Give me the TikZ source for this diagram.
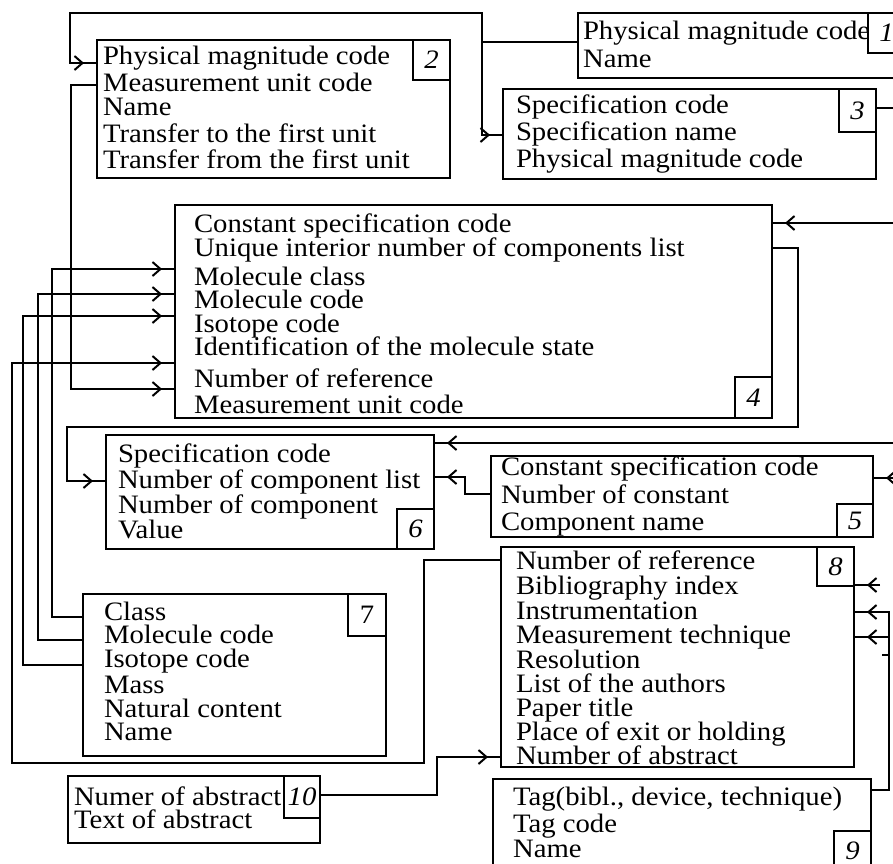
\documentclass[tikz,border=0pt]{standalone}
\usepackage{fontspec}
\setmainfont{Liberation Serif}[FakeStretch=1.08]
\usepackage{tikz}
\usetikzlibrary{fit,arrows.meta,decorations.markings}

\begin{document}
\begin{tikzpicture}[x=0.5pt, y=-0.5pt, line width=1pt,
    tbl/.style={draw, inner sep=0pt},
    num/.style={draw, inner sep=0pt},
    numtext/.style={inner sep=0pt, font=\fontsize{13.3}{13}\selectfont\itshape},
    row/.style={anchor=base west, inner sep=0pt, font=\fontsize{13.3}{13}\selectfont},
    link/.style={postaction={decorate}, decoration={markings,
        mark=at position -6pt with {\arrow{Straight Barb[length=4pt, width=7pt]}}}}]
    \useasboundingbox (0,0) rectangle (893,863);
    \clip (0,0) rectangle (893,863);
    % Table 1
    \node[tbl, fit={(578,13) (905,78)}] (t1) {};
    \node[num, fit={(868,13) (905,53)}, label={[numtext]center:1}] (n1) {};
    \foreach \i/\y/\txt in {1/39/Physical magnitude code, 2/67/Name}
        \node[row] (t1-\i) at (582,\y) {\txt};
    % Table 2
    \node[tbl, fit={(97,40) (450,178)}] (t2) {};
    \node[num, fit={(413,40) (450,80)}, label={[numtext]center:2}] (n2) {};
    \foreach \i/\y/\txt in {1/64/Physical magnitude code, 2/91/Measurement unit code,
            3/115/Name, 4/142/Transfer to the first unit, 5/168/Transfer from the first unit}
        \node[row] (t2-\i) at (102,\y) {\txt};
    % Table 3
    \node[tbl, fit={(503,89) (876,179)}] (t3) {};
    \node[num, fit={(839,89) (876,132)}, label={[numtext]center:3}] (n3) {};
    \foreach \i/\y/\txt in {1/113/Specification code, 2/140/Specification name,
            3/167/Physical magnitude code}
        \node[row] (t3-\i) at (515,\y) {\txt};
    % Table 4
    \node[tbl, fit={(175,205) (772,418)}] (t4) {};
    \node[num, fit={(735,377) (772,418)}, label={[numtext]center:4}] (n4) {};
    \foreach \i/\y/\txt in {1/232/Constant specification code,
            2/256/Unique interior number of components list, 3/285/Molecule class,
            4/308/Molecule code, 5/332/Isotope code,
            6/355/Identification of the molecule state, 7/387/Number of reference,
            8/413/Measurement unit code}
        \node[row] (t4-\i) at (193,\y) {\txt};
    % Table 5
    \node[tbl, fit={(491,456) (873,537)}] (t5) {};
    \node[num, fit={(837,504) (873,537)}, label={[numtext]center:5}] (n5) {};
    \foreach \i/\y/\txt in {1/475/Constant specification code, 2/503/Number of constant,
            3/530/Component name}
        \node[row] (t5-\i) at (500,\y) {\txt};
    % Table 6
    \node[tbl, fit={(106,435) (434,549)}] (t6) {};
    \node[num, fit={(397,509) (434,549)}, label={[numtext]center:6}] (n6) {};
    \foreach \i/\y/\txt in {1/462/Specification code, 2/488/Number of component list,
            3/513/Number of component, 4/538/Value}
        \node[row] (t6-\i) at (117,\y) {\txt};
    % Table 7
    \node[tbl, fit={(83,594) (386,756)}] (t7) {};
    \node[num, fit={(348,594) (386,636)}, label={[numtext, font=\fontsize{13.3}{13}\selectfont]center:7}] (n7) {};
    \foreach \i/\y/\txt in {1/620/Class, 2/643/Molecule code, 3/667/Isotope code,
            4/693/Mass, 5/717/Natural content, 6/740/Name}
        \node[row] (t7-\i) at (103,\y) {\txt};
    % Table 8
    \node[tbl, fit={(501,547) (854,767)}] (t8) {};
    \node[num, fit={(817,547) (854,586)}, label={[numtext]center:8}] (n8) {};
    \foreach \i/\y/\txt in {1/569/Number of reference, 2/594/Bibliography index,
            3/619/Instrumentation, 4/643/Measurement technique, 5/668/Resolution,
            6/692/List of the authors, 7/716/Paper title, 8/740/Place of exit or holding,
            9/764/Number of abstract}
        \node[row] (t8-\i) at (515,\y) {\txt};
    % Table 9
    \node[tbl, fit={(493,779) (871,870)}] (t9) {};
    \node[num, fit={(834,831) (871,870)}, label={[numtext]center:9}] (n9) {};
    \foreach \i/\y/\txt in {1/805/{Tag(bibl., device, technique)}, 2/832/Tag code,
            3/857/Name}
        \node[row] (t9-\i) at (512,\y) {\txt};
    % Table 10
    \node[tbl, fit={(68,776) (320,843)}] (t10) {};
    \node[num, fit={(284,776) (320,818)}, label={[numtext]center:10}] (n10) {};
    \foreach \i/\y/\txt in {1/805/Numer of abstract, 2/828/Text of abstract}
        \node[row] (t10-\i) at (73,\y) {\txt};
    % Free ends at the border
    \coordinate (e3) at (893,108);
    \coordinate (e4) at (893,223);
    \coordinate (e6) at (893,443);
    \coordinate (e5) at (893,478);
    \coordinate (e8) at (880,585);
    \coordinate (b1) at (889,637);
    \coordinate (s1) at (882,655);
    \coordinate (j1) at (482,42);
    % Links
    \draw (t1.west |- j1) -- (j1);
    \draw[link] (j1) |- (70,13) |- (t2.west |- 0,63);
    \draw[link] (j1) |- (t3.west |- 0,135);
    \draw[link] (t2.west |- 0,85) -| (71,389) -- (t4.west |- 0,389);
    \draw[link] (t7.west |- 0,617) -| (52,269) -- (t4.west |- 0,269);
    \draw[link] (t7.west |- 0,640) -| (38,294) -- (t4.west |- 0,294);
    \draw[link] (t7.west |- 0,665) -| (23,316) -- (t4.west |- 0,316);
    \draw[link] (t8.west |- 0,560) -| (424,763) -| (12,363) -- (t4.west |- 0,363);
    \draw[link] (t4.east |- 0,248) -| (798,427) -| (67,481) -- (t6.west |- 0,481);
    \draw[link] (e4) -- (t4.east |- e4);
    \draw (n3.east |- e3) -- (e3);
    \draw[link] (e6) -- (t6.east |- e6);
    \draw[link] (t5.west |- 0,494) -| (465,477) -- (t6.east |- 0,477);
    \draw[link] (e5) -- (t5.east |- e5);
    \draw[link] (e8) -- (t8.east |- e8);
    \draw[link] (t9.east |- 0,790) -| (889,612) -- (t8.east |- 0,612);
    \draw[link] (b1) -- (t8.east |- b1);
    \draw (s1) -- (s1 -| b1);
    \draw[link] (n10.east |- 0,795) -| (437,757) -- (t8.west |- 0,757);
\end{tikzpicture}
\end{document}
